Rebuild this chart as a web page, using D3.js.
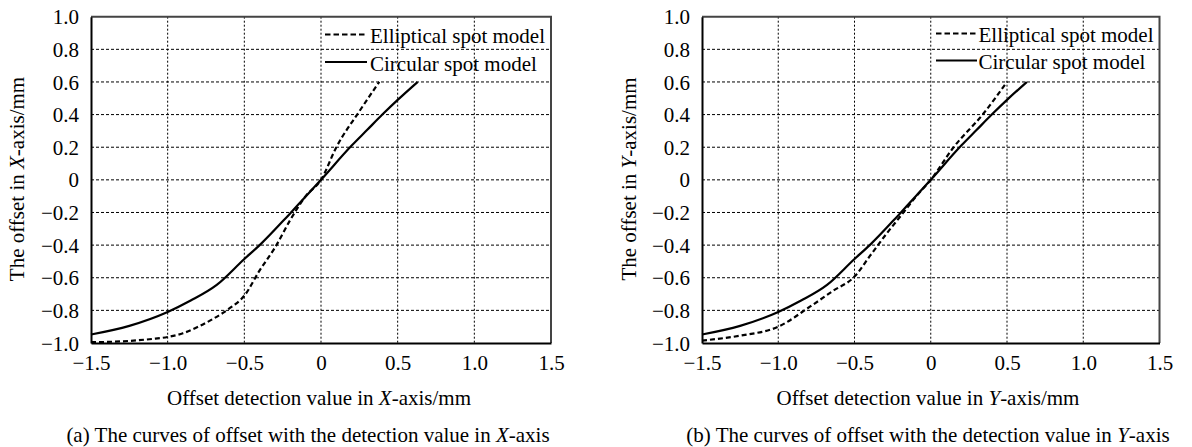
<!DOCTYPE html>
<html><head><meta charset="utf-8">
<script src="https://cdn.jsdelivr.net/npm/d3@7/dist/d3.min.js"></script>
<style>
body{margin:0;background:#fff}
svg text{font-family:"Liberation Serif","Times New Roman",serif;fill:#000}
</style>
</head><body>
<svg id="chart" width="1192" height="447"></svg>
<script>
// ---- data ----
const xTicks = [-1.5, -1.0, -0.5, 0, 0.5, 1.0, 1.5];
const yTicks = [-1.0, -0.8, -0.6, -0.4, -0.2, 0, 0.2, 0.4, 0.6, 0.8, 1.0];
const seriesNames = ["Elliptical spot model", "Circular spot model"];

// panel (a): X-axis
const ellipticalX_det = [-1.5, -1.3, -1.1, -1.0, -0.9, -0.8, -0.7, -0.6, -0.5, -0.4, -0.3, -0.2, -0.1, 0, 0.1, 0.25, 0.38];
const ellipticalX_off = [-0.995, -0.99, -0.975, -0.963, -0.94, -0.9, -0.85, -0.79, -0.71, -0.555, -0.415, -0.245, -0.1, 0, 0.2, 0.42, 0.6];
const circularX_det = [-1.5, -1.25, -1.0, -0.85, -0.68, -0.5, -0.4, -0.2, 0, 0.2, 0.3, 0.4, 0.5, 0.63];
const circularX_off = [-0.948, -0.895, -0.81, -0.74, -0.644, -0.485, -0.4, -0.204, 0, 0.21, 0.305, 0.4, 0.49, 0.6];

// panel (b): Y-axis
const ellipticalY_det = [-1.5, -1.25, -1.0, -0.79, -0.64, -0.5, -0.4, -0.29, -0.2, -0.09, 0, 0.15, 0.34, 0.5];
const ellipticalY_off = [-0.985, -0.955, -0.9, -0.776, -0.68, -0.593, -0.468, -0.33, -0.225, -0.095, 0, 0.2, 0.4, 0.6];
const circularY_det = [-1.5, -1.25, -1.0, -0.85, -0.68, -0.5, -0.4, -0.2, 0, 0.2, 0.3, 0.4, 0.5, 0.63];
const circularY_off = [-0.948, -0.895, -0.81, -0.74, -0.644, -0.485, -0.4, -0.204, 0, 0.21, 0.305, 0.4, 0.49, 0.6];

const captions = [
  "(a) The curves of offset with the detection value in ",
  "(b) The curves of offset with the detection value in "
];
const axisLetters = ["X", "Y"];

// ---- drawing ----
const svg = d3.select("#chart");
const FS = 21;

function fmt(v) {
  if (Math.abs(v) < 1e-9) return "0";
  return (v < 0 ? "\u2212" : "") + Math.abs(v).toFixed(1);
}

function zip(a, b) { return a.map((d, i) => [d, b[i]]); }

function panel(cfg) {
  const x = d3.scaleLinear().domain([-1.5, 1.5]).range([cfg.x0, cfg.x1]);
  const y = d3.scaleLinear().domain([-1.0, 1.0]).range([cfg.y1, cfg.y0]);
  const g = svg.append("g");

  // grid
  g.selectAll(".hg").data(yTicks.filter(v => Math.abs(v) < 0.99)).join("line")
    .attr("x1", cfg.x0).attr("x2", cfg.x1)
    .attr("y1", d => y(d)).attr("y2", d => y(d))
    .attr("stroke", "#000").attr("stroke-width", 1).attr("stroke-dasharray", "3,2");
  g.selectAll(".vg").data(xTicks.filter(v => Math.abs(v) < 1.49)).join("line")
    .attr("y1", cfg.y0).attr("y2", cfg.y1)
    .attr("x1", d => x(d)).attr("x2", d => x(d))
    .attr("stroke", "#000").attr("stroke-width", 1).attr("stroke-dasharray", "2,2");

  // frame top/right
  g.append("path")
    .attr("d", `M${cfg.x0},${cfg.y0}H${cfg.x1}V${cfg.y1}`)
    .attr("fill", "none").attr("stroke", "#444").attr("stroke-width", 2);

  // axes
  const ax = g.append("g").attr("transform", `translate(0,${cfg.y1})`)
    .call(d3.axisBottom(x).tickValues(xTicks).tickFormat(fmt).tickSize(0).tickPadding(0));
  ax.select(".domain").attr("stroke", "#000").attr("stroke-width", 2);
  ax.selectAll("text").attr("font-size", FS).attr("y", 20).attr("dy", "0.32em")
    .style("font-family", '"Liberation Serif", serif');

  const ay = g.append("g").attr("transform", `translate(${cfg.x0},0)`)
    .call(d3.axisLeft(y).tickValues(yTicks).tickFormat(fmt).tickSize(0).tickPadding(0));
  ay.select(".domain").attr("stroke", "#000").attr("stroke-width", 2);
  ay.selectAll("text").attr("font-size", FS).attr("x", -12).attr("dy", "0.34em")
    .style("font-family", '"Liberation Serif", serif');

  // curves
  const line = d3.line().x(d => x(d[0])).y(d => y(d[1])).curve(d3.curveMonotoneX);
  g.append("path").datum(zip(cfg.ellDet, cfg.ellOff)).attr("d", line)
    .attr("fill", "none").attr("stroke", "#000").attr("stroke-width", 2.2)
    .attr("stroke-dasharray", "5,3");
  g.append("path").datum(zip(cfg.cirDet, cfg.cirOff)).attr("d", line)
    .attr("fill", "none").attr("stroke", "#000").attr("stroke-width", 2.2);

  // legend
  g.append("line").attr("x1", cfg.lgX0).attr("x2", cfg.lgX1)
    .attr("y1", cfg.lgY[0]).attr("y2", cfg.lgY[0])
    .attr("stroke", "#000").attr("stroke-width", 2).attr("stroke-dasharray", "5.5,3");
  g.append("line").attr("x1", cfg.lgX0).attr("x2", cfg.lgX1)
    .attr("y1", cfg.lgY[1]).attr("y2", cfg.lgY[1])
    .attr("stroke", "#000").attr("stroke-width", 2);
  seriesNames.forEach((n, i) => {
    g.append("text").attr("x", cfg.lgTX).attr("y", cfg.lgY[i] + 2)
      .attr("dy", "0.32em").attr("font-size", FS).text(n);
  });

  // x title
  const xt = g.append("text").attr("x", cfg.titleCX).attr("y", 398).attr("dy", "0.35em")
    .attr("text-anchor", "middle").attr("font-size", FS);
  xt.append("tspan").text("Offset detection value in ");
  xt.append("tspan").attr("font-style", "italic").text(cfg.letter);
  xt.append("tspan").text("-axis/mm");

  // y title
  const yt = g.append("text")
    .attr("transform", `translate(${cfg.ylabX},179) rotate(-90)`)
    .attr("dy", "0.35em").attr("text-anchor", "middle").attr("font-size", FS);
  yt.append("tspan").text("The offset in ");
  yt.append("tspan").attr("font-style", "italic").text(cfg.letter);
  yt.append("tspan").text("-axis/mm");

  // caption
  const ct = g.append("text").attr("x", cfg.capCX).attr("y", 435).attr("dy", "0.35em")
    .attr("text-anchor", "middle").attr("font-size", FS);
  ct.append("tspan").text(cfg.caption);
  ct.append("tspan").attr("font-style", "italic").text(cfg.letter);
  ct.append("tspan").text("-axis");
}

panel({
  x0: 91, x1: 551, y0: 16.7, y1: 343,
  ellDet: ellipticalX_det, ellOff: ellipticalX_off,
  cirDet: circularX_det, cirOff: circularX_off,
  lgX0: 325, lgX1: 367, lgTX: 370, lgY: [34.5, 62],
  titleCX: 319, ylabX: 16.5, capCX: 308,
  caption: captions[0], letter: axisLetters[0]
});
panel({
  x0: 702, x1: 1159.5, y0: 16.7, y1: 343,
  ellDet: ellipticalY_det, ellOff: ellipticalY_off,
  cirDet: circularY_det, cirOff: circularY_off,
  lgX0: 936, lgX1: 977, lgTX: 978.5, lgY: [33.5, 60.5],
  titleCX: 928, ylabX: 629, capCX: 928,
  caption: captions[1], letter: axisLetters[1]
});
</script>
</body></html>
